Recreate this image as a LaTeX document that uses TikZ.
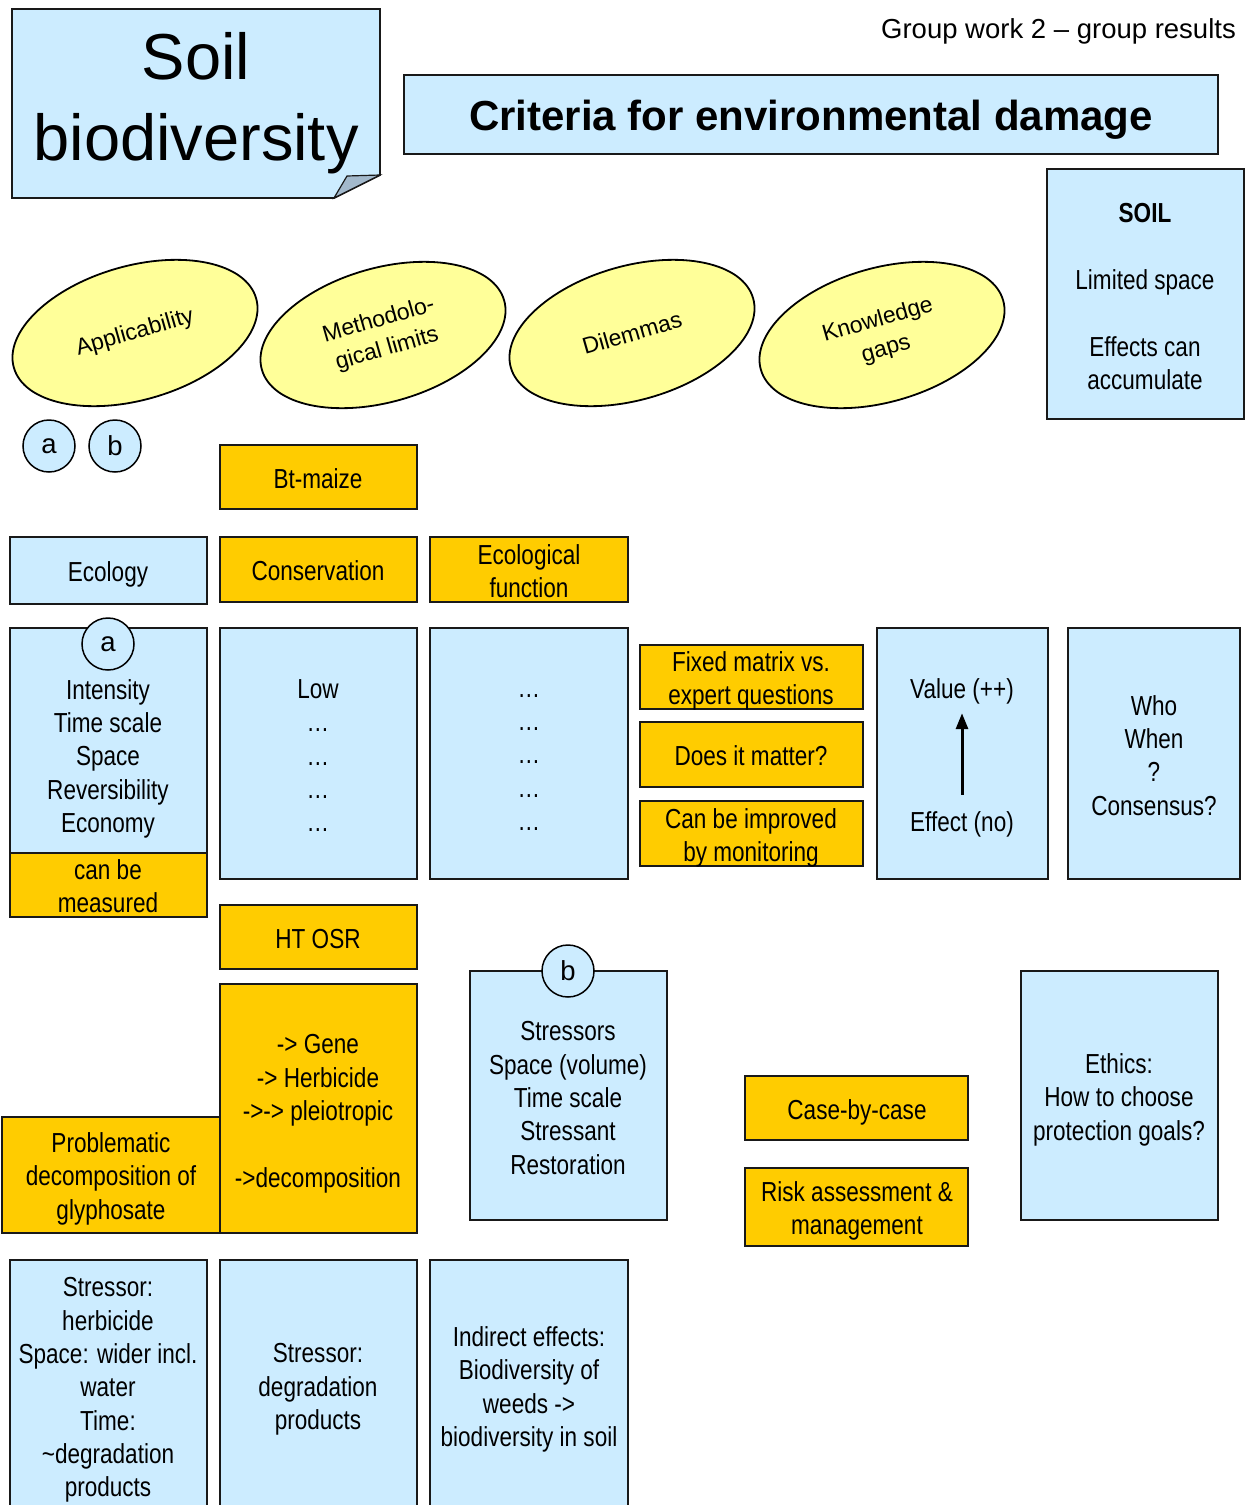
\documentclass[tikz,border=0pt]{standalone}
\usepackage{fontspec}
\setmainfont{Liberation Sans}
\newfontfamily\narrowf[FakeStretch=0.82]{Liberation Sans}
\usetikzlibrary{shapes.geometric,arrows.meta}
\definecolor{lblue}{HTML}{CCECFF}
\definecolor{gold}{HTML}{FFCC00}
\definecolor{lyellow}{HTML}{FFFF99}
\definecolor{foldc}{HTML}{A3B9CC}
\newcommand\mkbox[6]{\node[#1, minimum width={#5-#3}, minimum height={#6-#4}] (#2) at ({(#3+#5)/2},{(#4+#6)/2}) {};}
\begin{document}
\begin{tikzpicture}[x=1pt,y=-1pt,
 bx/.style={draw=black!90, line width=1.8pt, rectangle, inner sep=0pt},
 bluebox/.style={bx, fill=lblue},
 goldbox/.style={bx, fill=gold},
 oval/.style={ellipse, draw=black, line width=1.8pt, fill=lyellow, minimum width=252pt, minimum height=134pt, inner sep=0pt, rotate=16, font=\fontsize{23}{30}\selectfont, align=center},
 circ/.style={circle, draw=black, line width=1.5pt, fill=lblue, minimum size=52pt, inner sep=0pt, font=\fontsize{27.5}{33}\selectfont},
 t/.style={font=\narrowf\fontsize{27.5}{33.3}\selectfont, align=center, inner sep=0pt, anchor=north, execute at begin node=\strut},
]
\useasboundingbox (0,0) rectangle (1245,1505);

% note
\path[fill=lblue, draw=black!90, line width=1.8pt] (12,9) -- (380,9) -- (380,175) -- (334,198) -- (12,198) -- cycle;
\path[fill=foldc, draw=black!90, line width=1.2pt] (380,175) -- (347,176) -- (334,198) -- cycle;
\node[font=\fontsize{65}{81}\selectfont, align=center, inner sep=0pt, anchor=north] (soilbio) at (196,32) {Soil\\biodiversity};

\node[font=\fontsize{27.5}{33}\selectfont, anchor=base east, inner sep=0pt] (group) at (1236,38) {Group work 2 – group results};

\mkbox{bluebox}{titlebox}{404}{75}{1218}{154}
\node[font=\bfseries\fontsize{42}{42}\selectfont, anchor=base, inner sep=0pt] (title) at (811,130) {Criteria for environmental damage};

\mkbox{bluebox}{soilbox}{1047}{169}{1244}{419}
\node[t] (soiltxt) at (1145,203.5) {\bfseries SOIL\\[33.3pt]Limited space\\[33.3pt]Effects can\\accumulate};

% ovals
\node[oval] (app) at (135,333) {Applicability};
\node[oval] (meth) at (383,335) {Methodolo-\\gical limits};
\node[oval] (dil) at (632,333) {Dilemmas};
\node[oval] (know) at (882,335) {Knowledge\\gaps};

\node[circ] (ca) at (49,446) {a};
\node[circ] (cb) at (115,446) {b};

\mkbox{goldbox}{bt}{220}{445}{417}{509}
\node[t] (bttxt) at (318,465) {Bt-maize};

\mkbox{bluebox}{eco}{10}{537}{207}{604}
\node[t] (ecotxt) at (108,558) {Ecology};
\mkbox{goldbox}{cons}{220}{537}{417}{602}
\node[t] (constxt) at (318,557) {Conservation};
\mkbox{goldbox}{ecof}{430}{537}{628}{602}
\node[t] (eceftxt) at (529,544.5) {Ecological\\function};

% column a
\mkbox{bluebox}{cola}{10}{628}{207}{853}
\mkbox{goldbox}{meas}{10}{853}{207}{917}
\node[circ] (ca2) at (108,644) {a};
\node[t] (colatxt) at (108,679) {Intensity\\Time scale\\Space\\Reversibility\\Economy};
\node[t] (meastxt) at (108,859.5) {can be\\measured};

\mkbox{bluebox}{low}{220}{628}{417}{879}
\node[t] (lowtxt) at (318,679.5) {Low\\…\\…\\…\\…};
\mkbox{bluebox}{dots}{430}{628}{628}{879}
\node[t] (dotstxt) at (529,694) {…\\…\\…\\…\\…};

\mkbox{goldbox}{fixed}{640}{645}{863}{709}
\node[t] (fixedtxt) at (751,651.5) {Fixed matrix vs.\\expert questions};
\mkbox{goldbox}{matter}{640}{722}{863}{787}
\node[t] (mattertxt) at (751,741.5) {Does it matter?};
\mkbox{goldbox}{monit}{640}{801}{863}{866}
\node[t] (monittxt) at (751,808.5) {Can be improved\\by monitoring};

\mkbox{bluebox}{valbox}{877}{628}{1048}{879}
\node[t] (val) at (962,674.5) {Value (++)};
\node[t] (eff) at (962,807.5) {Effect (no)};
\draw[line width=3pt, -{Triangle[length=16pt,width=12pt]}, shorten <=13pt, shorten >=5pt] (eff.north) -- (val.south);

\mkbox{bluebox}{who}{1068}{628}{1240}{879}
\node[t] (whotxt) at (1154,695) {Who\\When\\?\\Consensus?};

\mkbox{goldbox}{ht}{220}{905}{417}{969}
\node[t] (httxt) at (318,924.5) {HT OSR};

\mkbox{goldbox}{gene}{220}{984}{417}{1233}
\node[t] (genetxt) at (318,1034.5) {-> Gene\\-> Herbicide\\->-> pleiotropic\\[33.3pt]->decomposition};
\mkbox{goldbox}{prob}{2}{1117}{220}{1233}
\node[t] (probtxt) at (111,1132.5) {Problematic\\decomposition of\\glyphosate};

\mkbox{bluebox}{bbox}{470}{971}{667}{1220}
\node[circ] (cb2) at (568,971) {b};
\node[t] (btxt) at (568,1021.5) {Stressors\\Space (volume)\\Time scale\\Stressant\\Restoration};

\mkbox{goldbox}{case}{745}{1076}{968}{1140}
\node[t] (casetxt) at (857,1095.5) {Case-by-case};
\mkbox{goldbox}{risk}{745}{1168}{968}{1246}
\node[t] (risktxt) at (857,1181.5) {Risk assessment \&\\management};

\mkbox{bluebox}{ethics}{1021}{971}{1218}{1220}
\node[t] (ethtxt) at (1119,1053.5) {Ethics:\\How to choose\\protection goals?};

% bottom row
\mkbox{bluebox}{b1}{10}{1260}{207}{1530}
\node[t] (b1txt) at (108,1277.5) {Stressor:\\herbicide\\Space: wider incl.\\water\\Time:\\\textasciitilde degradation\\products};
\mkbox{bluebox}{b2}{220}{1260}{417}{1530}
\node[t] (b2txt) at (318,1343.5) {Stressor:\\degradation\\products};
\mkbox{bluebox}{b3}{430}{1260}{628}{1530}
\node[t] (b3txt) at (529,1326.5) {Indirect effects:\\Biodiversity of\\weeds ->\\biodiversity in soil};
\end{tikzpicture}
\end{document}
